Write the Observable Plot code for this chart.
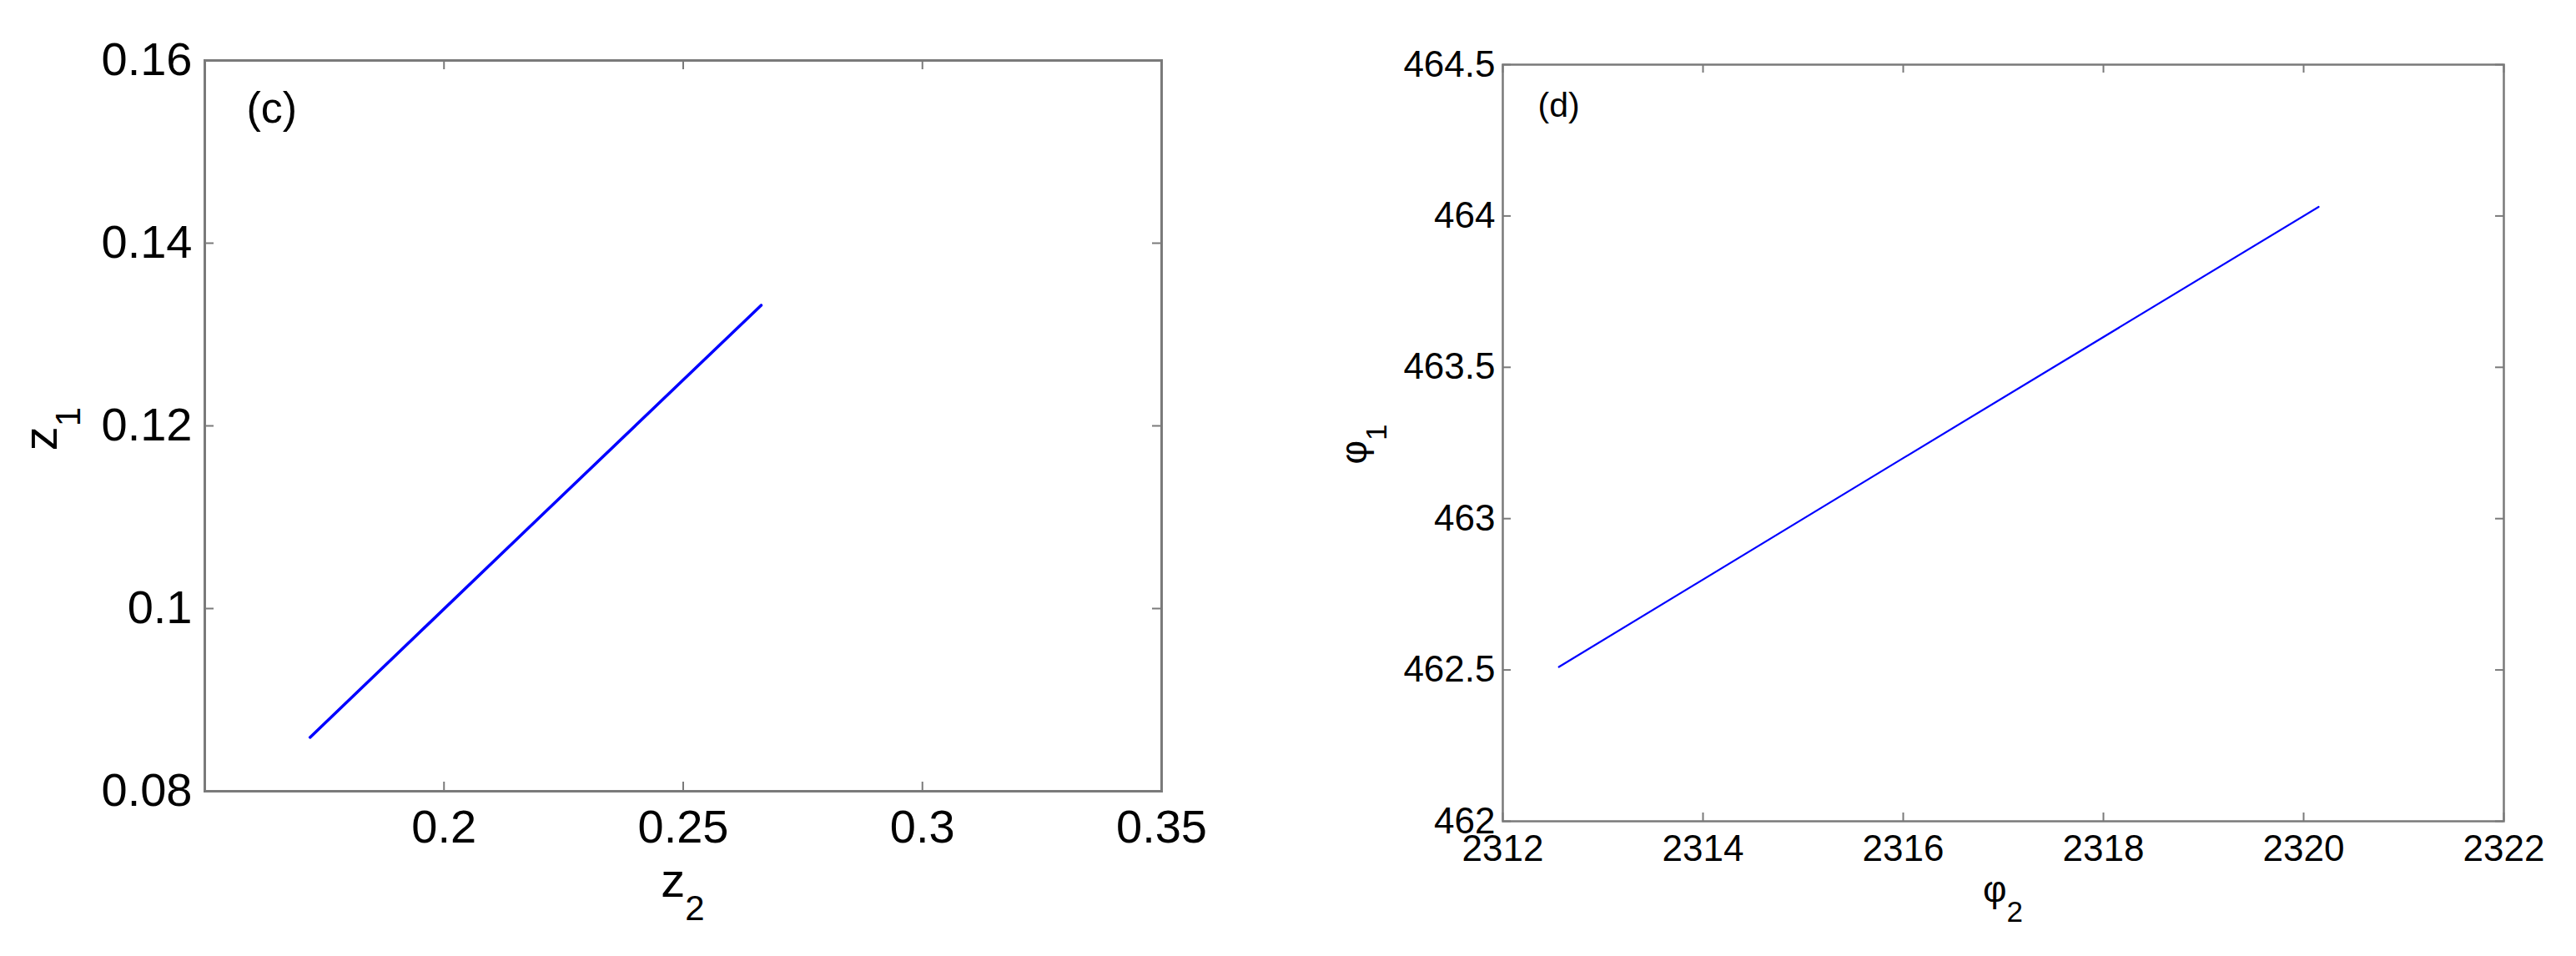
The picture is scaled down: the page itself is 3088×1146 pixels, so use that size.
<!DOCTYPE html>
<html><head><meta charset="utf-8">
<script src="https://cdn.jsdelivr.net/npm/d3@7"></script>
<script src="https://cdn.jsdelivr.net/npm/@observablehq/plot@0.6"></script>
<style>
html,body{margin:0;padding:0;background:#fff;}
#wrap{display:flex;width:3088px;height:1146px;}
svg{display:block;}
</style></head><body><div id="wrap"></div>
<script>
// Panel (c): z1 versus z2
const z2 = [0.172, 0.220, 0.2663];
const z1 = [0.0859, 0.1100, 0.1332];
const cXTicks = [0.2, 0.25, 0.3, 0.35];
const cYTicks = [0.08, 0.1, 0.12, 0.14, 0.16];
const cXDomain = [0.15, 0.35];
const cYDomain = [0.08, 0.16];

// Panel (d): phi1 versus phi2
const phi2 = [2312.56, 2316.0, 2320.15];
const phi1 = [462.51, 463.2, 464.03];
const dXTicks = [2312, 2314, 2316, 2318, 2320, 2322];
const dYTicks = [462, 462.5, 463, 463.5, 464, 464.5];
const dXDomain = [2312, 2322];
const dYDomain = [462, 464.5];

const FONT = "'Liberation Sans', Arial, Helvetica, sans-serif";
const AXIS = "#7a7a7a";

function panel(cfg) {
  const m = cfg.margins;
  const ih = cfg.height - m.top - m.bottom;
  const iw = cfg.width - m.left - m.right;
  const data = cfg.xs.map((x, i) => ({x, y: cfg.ys[i]}));
  const plot = Plot.plot({
    width: cfg.width, height: cfg.height,
    marginTop: m.top, marginRight: m.right, marginBottom: m.bottom, marginLeft: m.left,
    x: {domain: cfg.xDomain},
    y: {domain: cfg.yDomain},
    style: {fontFamily: FONT, fontSize: cfg.font + "px", color: "#000", background: "#fff"},
    marks: [
      Plot.axisX(cfg.xTicks, {tickSize: 0, tickPadding: cfg.xPad, tickFormat: d => String(d), fontSize: cfg.font, label: null}),
      Plot.axisY(cfg.yTicks, {tickSize: 0, tickPadding: cfg.yPad, tickFormat: d => String(d), fontSize: cfg.font, label: null}),
      Plot.tickX(cfg.xTicks, {x: d => d, insetTop: ih - cfg.tickLen, stroke: AXIS, strokeWidth: 2}),
      Plot.tickX(cfg.xTicks, {x: d => d, insetBottom: ih - cfg.tickLen, stroke: AXIS, strokeWidth: 2}),
      Plot.tickY(cfg.yTicks, {y: d => d, insetRight: iw - cfg.tickLen, stroke: AXIS, strokeWidth: 2}),
      Plot.tickY(cfg.yTicks, {y: d => d, insetLeft: iw - cfg.tickLen, stroke: AXIS, strokeWidth: 2}),
      Plot.line(data, {x: "x", y: "y", stroke: "#0000ff", strokeWidth: cfg.lineW}),
      Plot.frame({stroke: AXIS, strokeWidth: cfg.frameW}),
      Plot.text([cfg.tag], {frameAnchor: "top-left", text: d => d, dx: cfg.tagDx, dy: cfg.tagDy,
        fontSize: cfg.tagFont, lineAnchor: "top", textAnchor: "start", fill: "#000"})
    ]
  });
  const xr = plot.scale("x").range, yr = plot.scale("y").range;
  const xMid = (xr[0] + xr[1]) / 2, yMid = (yr[0] + yr[1]) / 2;
  const yBottom = Math.max(yr[0], yr[1]), xLeft = Math.min(xr[0], xr[1]);
  const lab = (x, y, rot, main, sub, L) => {
    const t = d3.select(plot).append("text")
      .attr("transform", `translate(${x},${y}) rotate(${rot})`)
      .attr("text-anchor", "middle").attr("font-family", FONT).attr("fill", "#000");
    t.append("tspan").attr("font-size", L.main).text(main);
    t.append("tspan").attr("font-size", L.sub).attr("dy", L.shift).text(sub);
  };
  lab(xMid, yBottom + cfg.xLabOff, 0, cfg.xLab[0], cfg.xLab[1], cfg.labFont);
  lab(xLeft - cfg.yLabOff, yMid + cfg.yLabShift, -90, cfg.yLab[0], cfg.yLab[1], cfg.labFont);
  return plot;
}

const wrap = document.getElementById("wrap");
wrap.appendChild(panel({
  xs: z2, ys: z1, xTicks: cXTicks, yTicks: cYTicks, xDomain: cXDomain, yDomain: cYDomain,
  width: 1550, height: 1146, margins: {top: 72, right: 158, bottom: 198, left: 245},
  font: 56, xPad: 22, yPad: 15, tickLen: 11, frameW: 3, lineW: 3.5,
  tag: "(c)", tagFont: 52, tagDx: 50, tagDy: 38,
  xLab: ["z", "2"], yLab: ["z", "1"], xLabOff: 127, yLabOff: 177, yLabShift: 4,
  labFont: {main: 58, sub: 42, shift: 28}
}));
wrap.appendChild(panel({
  xs: phi2, ys: phi1, xTicks: dXTicks, yTicks: dYTicks, xDomain: dXDomain, yDomain: dYDomain,
  width: 1538, height: 1146, margins: {top: 77, right: 87, bottom: 162, left: 251},
  font: 44, xPad: 16, yPad: 9, tickLen: 10, frameW: 2.5, lineW: 2.2,
  tag: "(d)", tagFont: 41, tagDx: 42, tagDy: 33,
  xLab: ["φ", "2"], yLab: ["φ", "1"], xLabOff: 97, yLabOff: 163, yLabShift: 2,
  labFont: {main: 44, sub: 35, shift: 24}
}));
</script></body></html>
